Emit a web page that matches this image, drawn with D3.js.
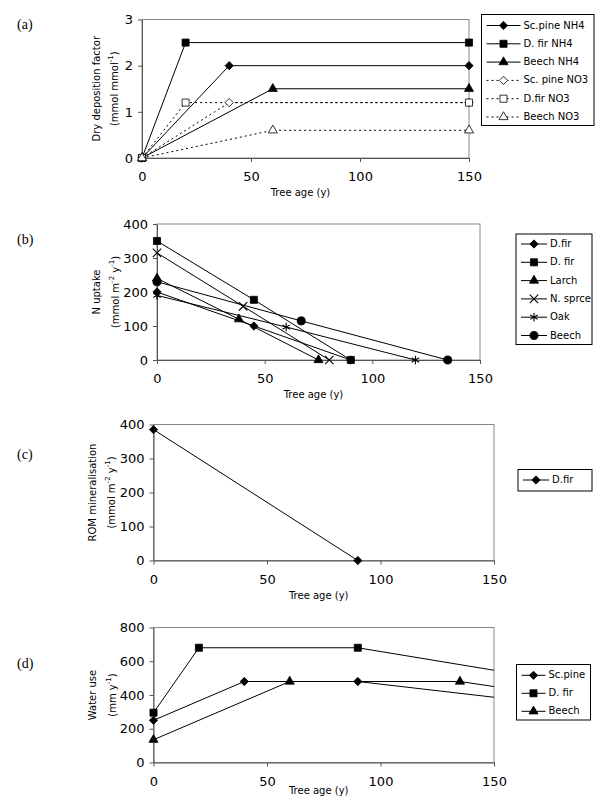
<!DOCTYPE html>
<html>
<head>
<meta charset="utf-8">
<script src="https://cdn.jsdelivr.net/npm/d3@7"></script>
<style>
  body { margin: 0; background: #fff; }
  text { font-family: "DejaVu Sans", sans-serif; fill: #000; }
  .rotuloPainel { font-family: "Liberation Serif", serif; font-size: 14px; }
</style>
</head>
<body>
<svg id="grafico"></svg>
<script>
// ---- dados ----
const idadeTicks = [0, 50, 100, 150];

// (a) dry deposition factor
const seriesA = ['Sc.pine NH4', 'D. fir NH4', 'Beech NH4', 'Sc. pine NO3', 'D.fir NO3', 'Beech NO3'];
const idadesA = [[0, 40, 150], [0, 20, 150], [0, 60, 150], [0, 40, 150], [0, 20, 150], [0, 60, 150]];
const valoresA = [[0, 2, 2], [0, 2.5, 2.5], [0, 1.5, 1.5], [0, 1.2, 1.2], [0, 1.2, 1.2], [0, 0.6, 0.6]];
const ticksA = [0, 1, 2, 3];

// (b) N uptake
const seriesB = ['D.fir', 'D. fir', 'Larch', 'N. sprce', 'Oak', 'Beech'];
const idadesB = [[0, 45, 90], [0, 45, 90], [0, 38, 75], [0, 40, 80], [0, 60, 120], [0, 67, 135]];
const valoresB = [[200, 100, 0], [350, 177, 0], [240, 120, 0], [315, 158, 0], [190, 97, 0], [230, 115, 0]];
const ticksB = [0, 100, 200, 300, 400];

// (c) ROM mineralisation
const seriesC = ['D.fir'];
const idadesC = [[0, 90]];
const valoresC = [[385, 0]];
const ticksC = [0, 100, 200, 300, 400];

// (d) water use
const seriesD = ['Sc.pine', 'D. fir', 'Beech'];
const idadesD = [[0, 40, 90, 180], [0, 20, 90, 180], [0, 60, 135, 180]];
const valoresD = [[250, 480, 480, 340], [295, 680, 680, 480], [135, 480, 480, 390]];
const ticksD = [0, 200, 400, 600, 800];

const svg = d3.select('#grafico').attr('width', 605).attr('height', 797);

const simbolos = {
    diamante: d3.symbolDiamond2,
    quadrado: d3.symbolSquare,
    triangulo: d3.symbolTriangle,
    xis: d3.symbolTimes,
    asterisco: d3.symbolAsterisk,
    circulo: d3.symbolCircle
};

function desenheMarcador(g, tipo, cheio, x, y) {
    let tam = { diamante: 44, quadrado: 50, triangulo: 36, xis: 48, asterisco: 52, circulo: 52 }[tipo];
    let traco = (tipo === 'xis' || tipo === 'asterisco');
    g.append('path')
        .attr('d', d3.symbol().type(simbolos[tipo]).size(tam)())
        .attr('transform', 'translate(' + x + ',' + y + ')')
        .attr('fill', traco ? 'none' : (cheio ? '#000' : '#fff'))
        .attr('stroke', '#000')
        .attr('stroke-width', traco ? 1.1 : 0.8);
}

function Painel(p) {
    let g = svg.append('g');
    let larg = p.direita - p.esquerda;
    let alt = p.inferior - p.superior;

    let fnX = d3.scaleLinear().domain([0, 150]).range([p.esquerda, p.direita]);
    let fnY = d3.scaleLinear().domain([0, d3.max(p.ticksY)]).range([p.inferior, p.superior]);

    // moldura
    g.append('rect')
        .attr('x', p.esquerda).attr('y', p.superior)
        .attr('width', larg).attr('height', alt)
        .attr('fill', 'none').attr('stroke', '#8a8a8a').attr('stroke-width', 1);

    let eixoX = g.append('g')
        .attr('transform', 'translate(0,' + p.inferior + ')')
        .call(d3.axisBottom(fnX).tickValues(idadeTicks).tickFormat(d => d)
            .tickSize(4).tickPadding(10).tickSizeOuter(0));
    let eixoY = g.append('g')
        .attr('transform', 'translate(' + p.esquerda + ',0)')
        .call(d3.axisLeft(fnY).tickValues(p.ticksY).tickFormat(d => d)
            .tickSize(4).tickPadding(5).tickSizeOuter(0));
    [eixoX, eixoY].forEach(e => {
        e.selectAll('path, line').attr('stroke', '#555');
        e.selectAll('text').style('font-size', '13px').attr('fill', '#000');
    });

    // titulos
    g.append('text')
        .attr('x', (p.esquerda + p.direita) / 2 - 5)
        .attr('y', Math.min(p.inferior + 38, 794))
        .attr('text-anchor', 'middle')
        .style('font-size', '10px')
        .text('Tree age (y)');

    p.tituloY.forEach((partes, i) => {
        let t = g.append('text')
            .attr('text-anchor', 'middle')
            .attr('dominant-baseline', 'middle')
            .attr('transform', 'translate(' + p.xTitulo[i] + ',' + (p.superior + p.inferior) / 2 + ') rotate(-90)')
            .style('font-size', '10px');
        partes.forEach(parte => {
            if (typeof parte === 'object') {
                t.append('tspan').attr('baseline-shift', 'super').style('font-size', '7px').text(parte.sobrescrito);
            } else {
                t.append('tspan').text(parte);
            }
        });
    });

    svg.append('text')
        .attr('class', 'rotuloPainel')
        .attr('x', 17).attr('y', p.yRotulo)
        .text(p.rotulo);

    // linhas
    let clipId = 'clip' + p.rotulo.replace(/\W/g, '');
    g.append('clipPath').attr('id', clipId)
        .append('rect').attr('x', p.esquerda).attr('y', p.superior - 10)
        .attr('width', larg).attr('height', alt + 20);

    let linha = d3.line().x(d => fnX(d[0])).y(d => fnY(d[1]));
    p.series.forEach((nome, i) => {
        let pontos = p.idades[i].map((x, j) => [x, p.valores[i][j]]);
        g.append('path')
            .datum(pontos)
            .attr('d', linha)
            .attr('clip-path', 'url(#' + clipId + ')')
            .attr('fill', 'none')
            .attr('stroke', '#000')
            .attr('stroke-width', 1)
            .attr('stroke-dasharray', p.tracejado[i] ? '2,3' : null);
    });
    p.series.forEach((nome, i) => {
        let gm = g.append('g');
        p.idades[i].forEach((x, j) => {
            if (x <= 150) desenheMarcador(gm, p.marcadores[i], p.cheios[i], fnX(x), fnY(p.valores[i][j]));
        });
    });

    // legenda
    let leg = p.legenda;
    g.append('rect')
        .attr('x', leg.x).attr('y', leg.y)
        .attr('width', leg.largura).attr('height', leg.altura)
        .attr('fill', '#fff').attr('stroke', '#000').attr('stroke-width', 1);
    p.series.forEach((nome, i) => {
        let y = leg.y + leg.primeira + i * leg.passo;
        g.append('line')
            .attr('x1', leg.x + 5).attr('x2', leg.x + 5 + leg.linha)
            .attr('y1', y).attr('y2', y)
            .attr('stroke', '#000').attr('stroke-width', 1)
            .attr('stroke-dasharray', p.tracejado[i] ? '2,3' : null);
        desenheMarcador(g, p.marcadores[i], p.cheios[i], leg.x + 5 + leg.linha / 2, y);
        g.append('text')
            .attr('x', leg.x + 8 + leg.linha)
            .attr('y', y)
            .attr('dominant-baseline', 'middle')
            .style('font-size', '10px')
            .text(nome);
    });
}

new Painel({
    rotulo: '(a)', yRotulo: 29,
    esquerda: 142, direita: 469, superior: 19.5, inferior: 158,
    ticksY: ticksA,
    tituloY: [['Dry deposition factor'], ['(mmol mmol', { sobrescrito: '-1' }, ')']],
    xTitulo: [97, 115],
    series: seriesA, idades: idadesA, valores: valoresA,
    marcadores: ['diamante', 'quadrado', 'triangulo', 'diamante', 'quadrado', 'triangulo'],
    cheios: [true, true, true, false, false, false],
    tracejado: [false, false, false, true, true, true],
    legenda: { x: 481.5, y: 14.5, largura: 112.5, altura: 111, primeira: 11, passo: 18.3, linha: 34 }
});

new Painel({
    rotulo: '(b)', yRotulo: 244,
    esquerda: 157, direita: 480, superior: 224, inferior: 360,
    ticksY: ticksB,
    tituloY: [['N uptake'], ['(mmol m', { sobrescrito: '-2' }, ' y', { sobrescrito: '-1' }, ')']],
    xTitulo: [97, 116],
    series: seriesB, idades: idadesB, valores: valoresB,
    marcadores: ['diamante', 'quadrado', 'triangulo', 'xis', 'asterisco', 'circulo'],
    cheios: [true, true, true, true, true, true],
    tracejado: [false, false, false, false, false, false],
    legenda: { x: 516, y: 234, largura: 76, altura: 110.5, primeira: 10, passo: 18.3, linha: 26 }
});

new Painel({
    rotulo: '(c)', yRotulo: 459,
    esquerda: 153.5, direita: 494, superior: 424.5, inferior: 560.5,
    ticksY: ticksC,
    tituloY: [['ROM mineralisation'], ['(mmol m', { sobrescrito: '-2' }, ' y', { sobrescrito: '-1' }, ')']],
    xTitulo: [93, 112],
    series: seriesC, idades: idadesC, valores: valoresC,
    marcadores: ['diamante'],
    cheios: [true],
    tracejado: [false],
    legenda: { x: 518, y: 469.5, largura: 74, altura: 21.5, primeira: 10.5, passo: 18.3, linha: 26 }
});

new Painel({
    rotulo: '(d)', yRotulo: 668,
    esquerda: 153.5, direita: 494, superior: 627.5, inferior: 762.5,
    ticksY: ticksD,
    tituloY: [['Water use'], ['(mm y', { sobrescrito: '-1' }, ')']],
    xTitulo: [93, 113],
    series: seriesD, idades: idadesD, valores: valoresD,
    marcadores: ['diamante', 'quadrado', 'triangulo'],
    cheios: [true, true, true],
    tracejado: [false, false, false],
    legenda: { x: 516.5, y: 664.5, largura: 74, altura: 55.5, primeira: 10.8, passo: 18, linha: 24 }
});
</script>
</body>
</html>
